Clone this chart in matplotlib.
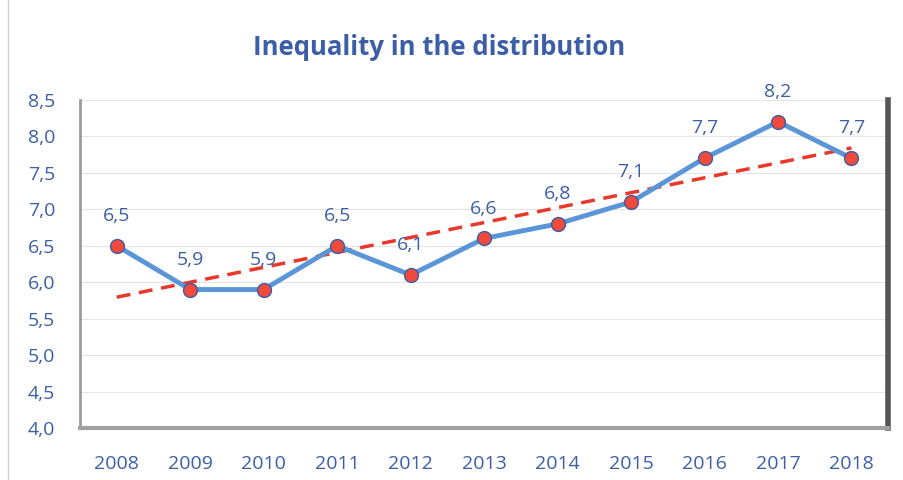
import matplotlib.pyplot as plt
import numpy as np

# Дані
years = [2008, 2009, 2010, 2011, 2012, 2013, 2014, 2015, 2016, 2017, 2018]
values = [6.5, 5.9, 5.9, 6.5, 6.1, 6.6, 6.8, 7.1, 7.7, 8.2, 7.7]
y_ticks = [4.0, 4.5, 5.0, 5.5, 6.0, 6.5, 7.0, 7.5, 8.0, 8.5]

txt_color = '#3b5ea6'
plt.rcParams['font.family'] = ['Open Sans', 'DejaVu Sans']

fig = plt.figure(figsize=(9.04, 4.8), dpi=100)
ax = fig.add_axes([0.0885, 0.108, 0.894, 0.684])

x = np.arange(len(years))

# лінійний тренд
k, b = np.polyfit(x, values, 1)
ax.plot(x, k * x + b, color='#e8382b', linestyle=(0, (4, 2.5)), linewidth=2.5, zorder=3)

# основна лінія
ax.plot(x, values, color='#5a95d8', linewidth=3.5, zorder=4,
        marker='o', markersize=10, markerfacecolor='#ef4a3c',
        markeredgecolor='#3b5ea6', markeredgewidth=1.0)

for xi, v in zip(x, values):
    ax.annotate(f"{v:.1f}".replace('.', ','), (xi, v), xytext=(0, 15),
                textcoords='offset points', ha='center', va='bottom',
                fontsize=14, color=txt_color)

ax.set_xlim(-0.5, len(years) - 0.5)
ax.set_ylim(4.0, 8.5)
ax.set_xticks(x)
ax.set_xticklabels([str(y) for y in years])
ax.set_yticks(y_ticks)
ax.set_yticklabels([f"{t:.1f}".replace('.', ',') for t in y_ticks])
ax.tick_params(axis='both', length=0, labelsize=14, labelcolor=txt_color)
ax.tick_params(axis='x', pad=19)
ax.tick_params(axis='y', pad=18)

ax.grid(axis='y', color='#e4e4e4', linewidth=0.8)
ax.set_axisbelow(True)

ax.spines['top'].set_visible(False)
ax.spines['left'].set_color('#9a9a9a')
ax.spines['left'].set_linewidth(2)
ax.spines['bottom'].set_color('#a0a0a0')
ax.spines['bottom'].set_linewidth(3)
ax.spines['right'].set_color('#555555')
ax.spines['right'].set_linewidth(4)

# тонка рамка діаграми зліва
fig.add_artist(plt.Line2D([0.009, 0.009], [0.0, 1.0], color='#d0d0d0', linewidth=1))

fig.text(0.486, 0.902, 'Inequality in the distribution', ha='center', va='center',
         fontsize=18.5, fontweight='bold', color=txt_color)

fig.savefig('out.png', dpi=100)
